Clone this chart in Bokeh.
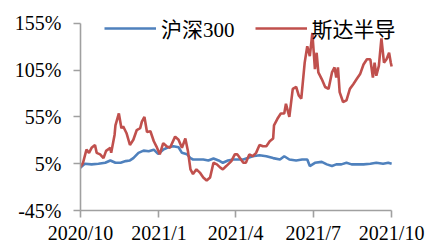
from datetime import datetime, timedelta
from bokeh.plotting import figure
from bokeh.models import (ColumnDataSource, FixedTicker, PrintfTickFormatter,
                          CustomJSTickFormatter, Legend, LegendItem, Range1d)
from bokeh.embed import file_html
from bokeh.resources import INLINE

# ---- data (cumulative return, %) ----
hs300_dates = ["2020-09-30", "2020-10-06", "2020-10-14", "2020-10-22", "2020-10-30", "2020-11-05",
               "2020-11-11", "2020-11-17", "2020-11-23", "2020-11-28", "2020-12-02", "2020-12-08",
               "2020-12-14", "2020-12-20", "2020-12-26", "2020-12-31", "2021-01-06", "2021-01-12",
               "2021-01-18", "2021-01-24", "2021-01-28", "2021-02-03", "2021-02-07", "2021-02-10",
               "2021-02-16", "2021-02-22", "2021-02-28", "2021-03-06", "2021-03-12", "2021-03-17",
               "2021-03-23", "2021-03-29", "2021-04-03", "2021-04-10", "2021-04-21", "2021-04-29",
               "2021-05-07", "2021-05-15", "2021-05-23", "2021-05-28", "2021-06-03", "2021-06-11",
               "2021-06-18", "2021-06-24", "2021-06-27", "2021-07-03", "2021-07-11", "2021-07-17",
               "2021-07-23", "2021-07-28", "2021-08-03", "2021-08-09", "2021-08-15", "2021-08-21",
               "2021-08-29", "2021-09-06", "2021-09-13", "2021-09-21", "2021-09-27", "2021-10-01"]
hs300_vals = [0, 5, 4.3, 5, 6, 8.5,
              6, 6, 7.8, 8.5, 11, 16.6,
              19, 18.3, 20, 15.5, 20, 22.6,
              23.6, 22.6, 16.6, 15, 11, 9.5,
              9.5, 9.5, 8.5, 10.6, 8.5, 6,
              8.5, 9.5, 9.5, 9.5, 13, 14,
              13, 11, 9.5, 13, 9.5, 8.5,
              9.5, 9.5, 2.5, 6, 7, 4.3,
              2.5, 4.3, 4.3, 6, 4.3, 4.3,
              4.3, 5, 6, 5, 6, 5]

sdbd_dates = ["2020-09-30", "2020-10-04", "2020-10-08", "2020-10-11", "2020-10-14", "2020-10-18",
              "2020-10-20", "2020-10-24", "2020-10-28", "2020-10-31", "2020-11-05", "2020-11-06",
              "2020-11-10", "2020-11-11", "2020-11-15", "2020-11-18", "2020-11-20", "2020-11-24",
              "2020-11-28", "2020-12-02", "2020-12-06", "2020-12-10", "2020-12-12", "2020-12-15",
              "2020-12-18", "2020-12-22", "2020-12-26", "2020-12-29", "2021-01-02", "2021-01-06",
              "2021-01-10", "2021-01-14", "2021-01-20", "2021-01-24", "2021-01-28", "2021-02-01",
              "2021-02-04", "2021-02-07", "2021-02-10", "2021-02-14", "2021-02-18", "2021-02-22",
              "2021-02-26", "2021-03-02", "2021-03-06", "2021-03-10", "2021-03-14", "2021-03-17",
              "2021-03-21", "2021-03-27", "2021-03-31", "2021-04-03", "2021-04-06", "2021-04-10",
              "2021-04-13", "2021-04-17", "2021-04-21", "2021-04-25", "2021-04-29", "2021-05-03",
              "2021-05-07", "2021-05-11", "2021-05-15", "2021-05-16", "2021-05-20", "2021-05-24",
              "2021-05-28", "2021-05-30", "2021-06-03", "2021-06-07", "2021-06-11", "2021-06-14",
              "2021-06-17", "2021-06-21", "2021-06-24", "2021-06-27", "2021-06-30", "2021-07-03",
              "2021-07-05", "2021-07-07", "2021-07-11", "2021-07-15", "2021-07-19", "2021-07-23",
              "2021-07-26", "2021-07-28", "2021-07-30", "2021-08-01", "2021-08-05", "2021-08-09",
              "2021-08-13", "2021-08-17", "2021-08-21", "2021-08-25", "2021-08-29", "2021-09-02",
              "2021-09-06", "2021-09-09", "2021-09-11", "2021-09-13", "2021-09-16", "2021-09-19",
              "2021-09-22", "2021-09-25", "2021-09-28", "2021-09-30", "2021-10-01"]
sdbd_vals = [0, 6, 20, 16.6, 22, 25,
             16.6, 15, 11, 18.7, 22, 16.6,
             36, 46, 58.7, 43, 45, 37.6,
             25, 30.6, 41, 43, 50, 55,
             39, 39.7, 29, 23.6, 15, 27,
             23.6, 22, 34, 30.6, 22, 32,
             18.7, -1, -6, -1, -4.5, -9.7,
             -13, -9.7, 6, 4.3, 0.8, -1,
             2.5, 7.8, 15, 15, 11, 6,
             6, 15, 13, 16.6, 25, 23.6,
             23.6, 29, 32, 46, 53, 58.7,
             58.7, 69, 55, 85, 87, 78,
             74.5, 113, 130.6, 120, 144.7, 106,
             123.6, 102.6, 95.5, 87, 85, 102.6,
             108, 97, 108, 81.5, 71, 72.7,
             85, 90, 95.5, 100.8, 111, 116.6,
             116.6, 97, 113, 99, 109.5, 139,
             113, 116.6, 123.6, 113, 109]

series_names = ["沪深300", "斯达半导"]
y_ticks = [-45, 5, 55, 105, 155]
x_tick_dates = ["2020-10-01", "2021-01-01", "2021-04-01", "2021-07-01", "2021-10-01"]

def to_dt(s):
    return datetime.strptime(s, "%Y-%m-%d")

blue = "#4F81BD"
red = "#C0504D"
axis_col = "#A0A0A0"
FONT = "'Liberation Serif', 'Noto Sans CJK SC'"

src_h = ColumnDataSource(dict(x=[to_dt(d) for d in hs300_dates], y=hs300_vals))
src_s = ColumnDataSource(dict(x=[to_dt(d) for d in sdbd_dates], y=sdbd_vals))

# frame: x 80..406 px (axis line stops at 2021/10, x=391), y 15..213 px (155% at y=23)
x_start = to_dt(x_tick_dates[0])
x_end = x_start + timedelta(days=366 * 326 / 312)
y_top = 155 + 8 * 200 / 190

p = figure(width=428, height=246, x_axis_type="datetime", output_backend="svg",
           toolbar_location=None,
           x_range=Range1d(x_start, x_end),
           y_range=Range1d(-45, y_top),
           min_border_left=80, min_border_right=22, min_border_top=15, min_border_bottom=33)
p.outline_line_color = None
p.grid.grid_line_color = None
p.background_fill_color = "white"
p.border_fill_color = "white"

r1 = p.line("x", "y", source=src_h, line_color=blue, line_width=2.6)
r2 = p.line("x", "y", source=src_s, line_color=red, line_width=2.6)

# y axis
p.yaxis.ticker = FixedTicker(ticks=y_ticks)
p.yaxis.bounds = (-45, 155)
p.yaxis.formatter = PrintfTickFormatter(format="%d%%")
p.yaxis.minor_tick_line_color = None
p.yaxis.major_tick_in = 0
p.yaxis.major_tick_out = 7
p.yaxis.axis_line_color = axis_col
p.yaxis.major_tick_line_color = axis_col
p.yaxis.axis_line_width = 1.6
p.yaxis.major_tick_line_width = 1.6
p.yaxis.major_label_text_font = FONT
p.yaxis.major_label_text_font_size = "20px"
p.yaxis.major_label_text_color = "black"
p.yaxis.major_label_standoff = 12

# x axis
x_ticks_ms = [to_dt(d).timestamp() * 1000 for d in x_tick_dates]
p.xaxis.ticker = FixedTicker(ticks=x_ticks_ms)
p.xaxis.bounds = (x_ticks_ms[0], x_ticks_ms[-1])
p.xaxis.formatter = CustomJSTickFormatter(code="""
    const d = new Date(tick);
    return d.getUTCFullYear() + "/" + (d.getUTCMonth() + 1);
""")
p.xaxis.minor_tick_line_color = None
p.xaxis.major_tick_in = 0
p.xaxis.major_tick_out = 7
p.xaxis.axis_line_color = axis_col
p.xaxis.major_tick_line_color = axis_col
p.xaxis.axis_line_width = 1.6
p.xaxis.major_tick_line_width = 1.6
p.xaxis.major_label_text_font = FONT
p.xaxis.major_label_text_font_size = "20px"
p.xaxis.major_label_text_color = "black"
p.xaxis.major_label_standoff = 4

legend = Legend(items=[LegendItem(label=series_names[0], renderers=[r1]),
                       LegendItem(label=series_names[1], renderers=[r2])],
                orientation="horizontal", location=(24, 167),
                glyph_width=52, glyph_height=20, label_standoff=5, spacing=20,
                padding=0, margin=0, border_line_color=None,
                background_fill_alpha=0,
                label_text_font=FONT, label_text_font_size="21px",
                label_text_color="black")
p.add_layout(legend)

open("out.html", "w").write(file_html(p, INLINE))
